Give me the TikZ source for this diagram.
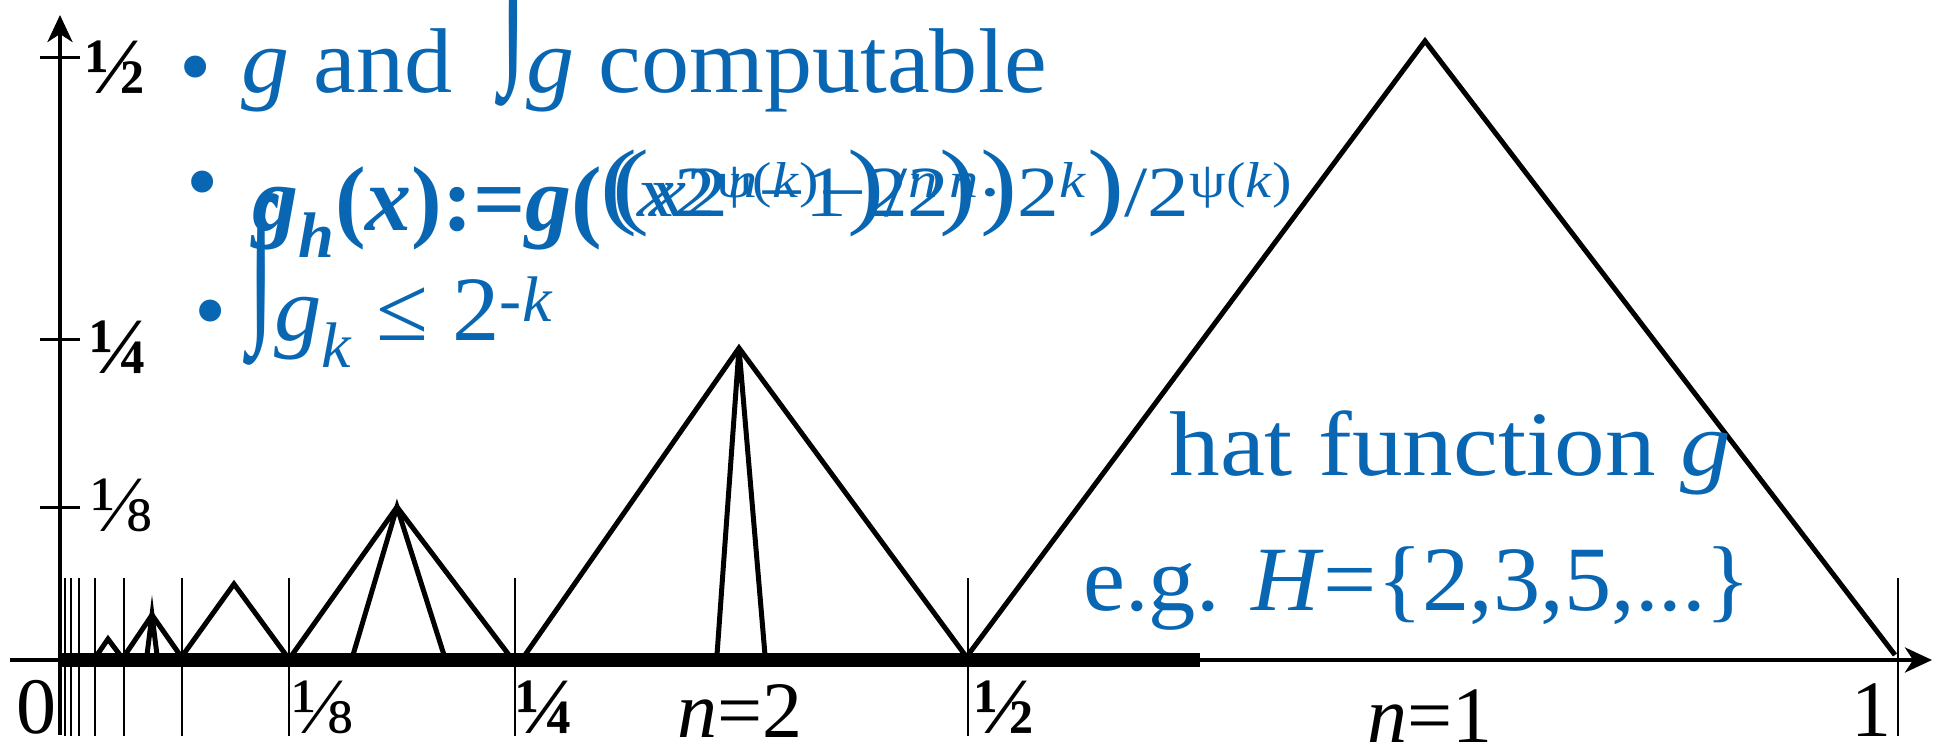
\documentclass[tikz,border=0pt]{standalone}
\usepackage{fontspec}
\setmainfont{Liberation Serif}
\usepackage{graphicx}
\usetikzlibrary{arrows.meta}
\definecolor{hatblue}{RGB}{8,102,178}
\newcommand{\wide}[2][1.03]{\scalebox{#1}[1]{#2}}
\newcommand{\bigpar}[1]{{\fontsize{48}{48}\selectfont #1}}
\newcommand{\tallint}[1][0.36em]{\raisebox{#1}{\scalebox{1}[1.9]{∫}}}
\tikzset{
  axis/.style={line width=2pt, -{Stealth[length=13.5pt,width=12.5pt,inset=4pt]}},
  hat/.style={line width=2.5pt},
  tickmark/.style={line width=1pt},
  ytick/.style={line width=1.5pt},
  bluetext/.style={text=hatblue, inner sep=0pt, font=\fontsize{46}{50}\selectfont},
  numlabel/.style={inner sep=0pt, font=\fontsize{40}{44}\selectfont},
}
\begin{document}
\begin{tikzpicture}[x=0.5pt, y=-0.5pt]
    \useasboundingbox (0,0) rectangle (1934,749);

    % axes
    \coordinate (xstart) at (10,660);
    \coordinate (xend) at (1932,660);
    \coordinate (ystart) at (60,735);
    \coordinate (yend) at (60,15);
    \draw[axis] (xstart) -- (xend);
    \draw[axis] (ystart) -- (yend);
    \draw[line width=7pt] (60,660) -- (1200,660);

    % ticks on the x axis, at 1/2^n
    \foreach \t in {65,71,79,95,124,182,289,515,968,1898}
        \draw[tickmark] (\t,578) -- (\t,736);

    % ticks on the y axis
    \foreach \t in {58,339,507}
        \draw[ytick] (40,\t) -- (80,\t);

    % hats, n=1 (big one)
    \draw[hat] (968,655) -- (1425,41) -- (1895,655);
    % n=2
    \draw[hat] (525,655) -- (739,348) -- (965,655);
    \draw[hat] (717,655) -- (739,348) -- (765,655);
    % n=3
    \draw[hat] (292,655) -- (397,507) -- (509,655);
    \draw[hat] (353,655) -- (397,507) -- (444,655);
    % smaller ones
    \draw[hat] (183,655) -- (234,584) -- (286,655);
    \draw[hat] (125,655) -- (152,615) -- (180,655);
    \draw[hat] (147,655) -- (152,615) -- (157,655);
    \draw[hat] (97,655) -- (108,639) -- (120,655);

    % labels on the axes
    \node[numlabel, anchor=base] (zero) at (37,733) {0};
    \node[numlabel, anchor=base] (one) at (1871,736) {1};
    \node[numlabel, anchor=base] (xeighth) at (322,733) {⅛};
    \node[numlabel, anchor=base] (xquarter) at (545,733) {\textbf{¼}};
    \node[numlabel, anchor=base] (xhalf) at (1004,733) {\textbf{½}};
    \node[numlabel, anchor=base] (yhalf) at (115,94) {\textbf{½}};
    \node[numlabel, anchor=base] (yquarter) at (120,373) {\textbf{¼}};
    \node[numlabel, anchor=base] (yeighth) at (121,531) {⅛};
    \node[numlabel, anchor=base] (ntwo) at (740,737) {\textit{n}=2};
    \node[numlabel, anchor=base] (none) at (1430,742) {\textit{n}=1};

    % bullet points
    \node[bluetext, anchor=base] (dot1) at (196,98) {•};
    \node[bluetext, anchor=base west] (line1) at (241,93)
        {\wide[1.045]{\textit{g} and\ \ \tallint\textit{g} computable}};
    \node[bluetext, anchor=base] (dot2) at (203,213) {•};
    \node[bluetext, anchor=base west] (line2) at (252,230)
        {\textbf{\textit{g}\textsubscript{\textit{h}}(\textit{x}):=\textit{g}(}};
    \node[bluetext, anchor=base west, font=\fontsize{36}{40}\selectfont] (line2b) at (600,216)
        {\wide[1.16]{\bigpar{(}\textit{x}2\textsuperscript{ψ(\textit{k})}−2\textsuperscript{\textit{n}}\bigpar{)}·\,2\textsuperscript{\textit{k}}\bigpar{)}/2\textsuperscript{ψ(\textit{k})}}};
    \node[bluetext, anchor=base west, font=\fontsize{36}{40}\selectfont] (line2a) at (612,216)
        {\wide[1.16]{\bigpar{(}\textit{x}2\textsuperscript{\textit{n}}−1\bigpar{)}/2\textsuperscript{\textit{n}}\bigpar{)}}};
    \node[bluetext, anchor=base] (dot3) at (211,341) {•};
    \node[bluetext, anchor=base west] (line3) at (248,340)
        {\wide{\tallint[0.23em]\textit{g}\textsubscript{\textit{k}} ≤ 2\textsuperscript{-\textit{k}}}};

    % text inside the big hat
    \node[bluetext, anchor=base west] (hatname) at (1169,475) {\wide[1.1]{hat function \textit{g}}};
    \node[bluetext, anchor=base west] (example) at (1083,610) {\wide[1.027]{e.g. \textit{H}=\{2,3,5,...\}}};
\end{tikzpicture}
\end{document}
